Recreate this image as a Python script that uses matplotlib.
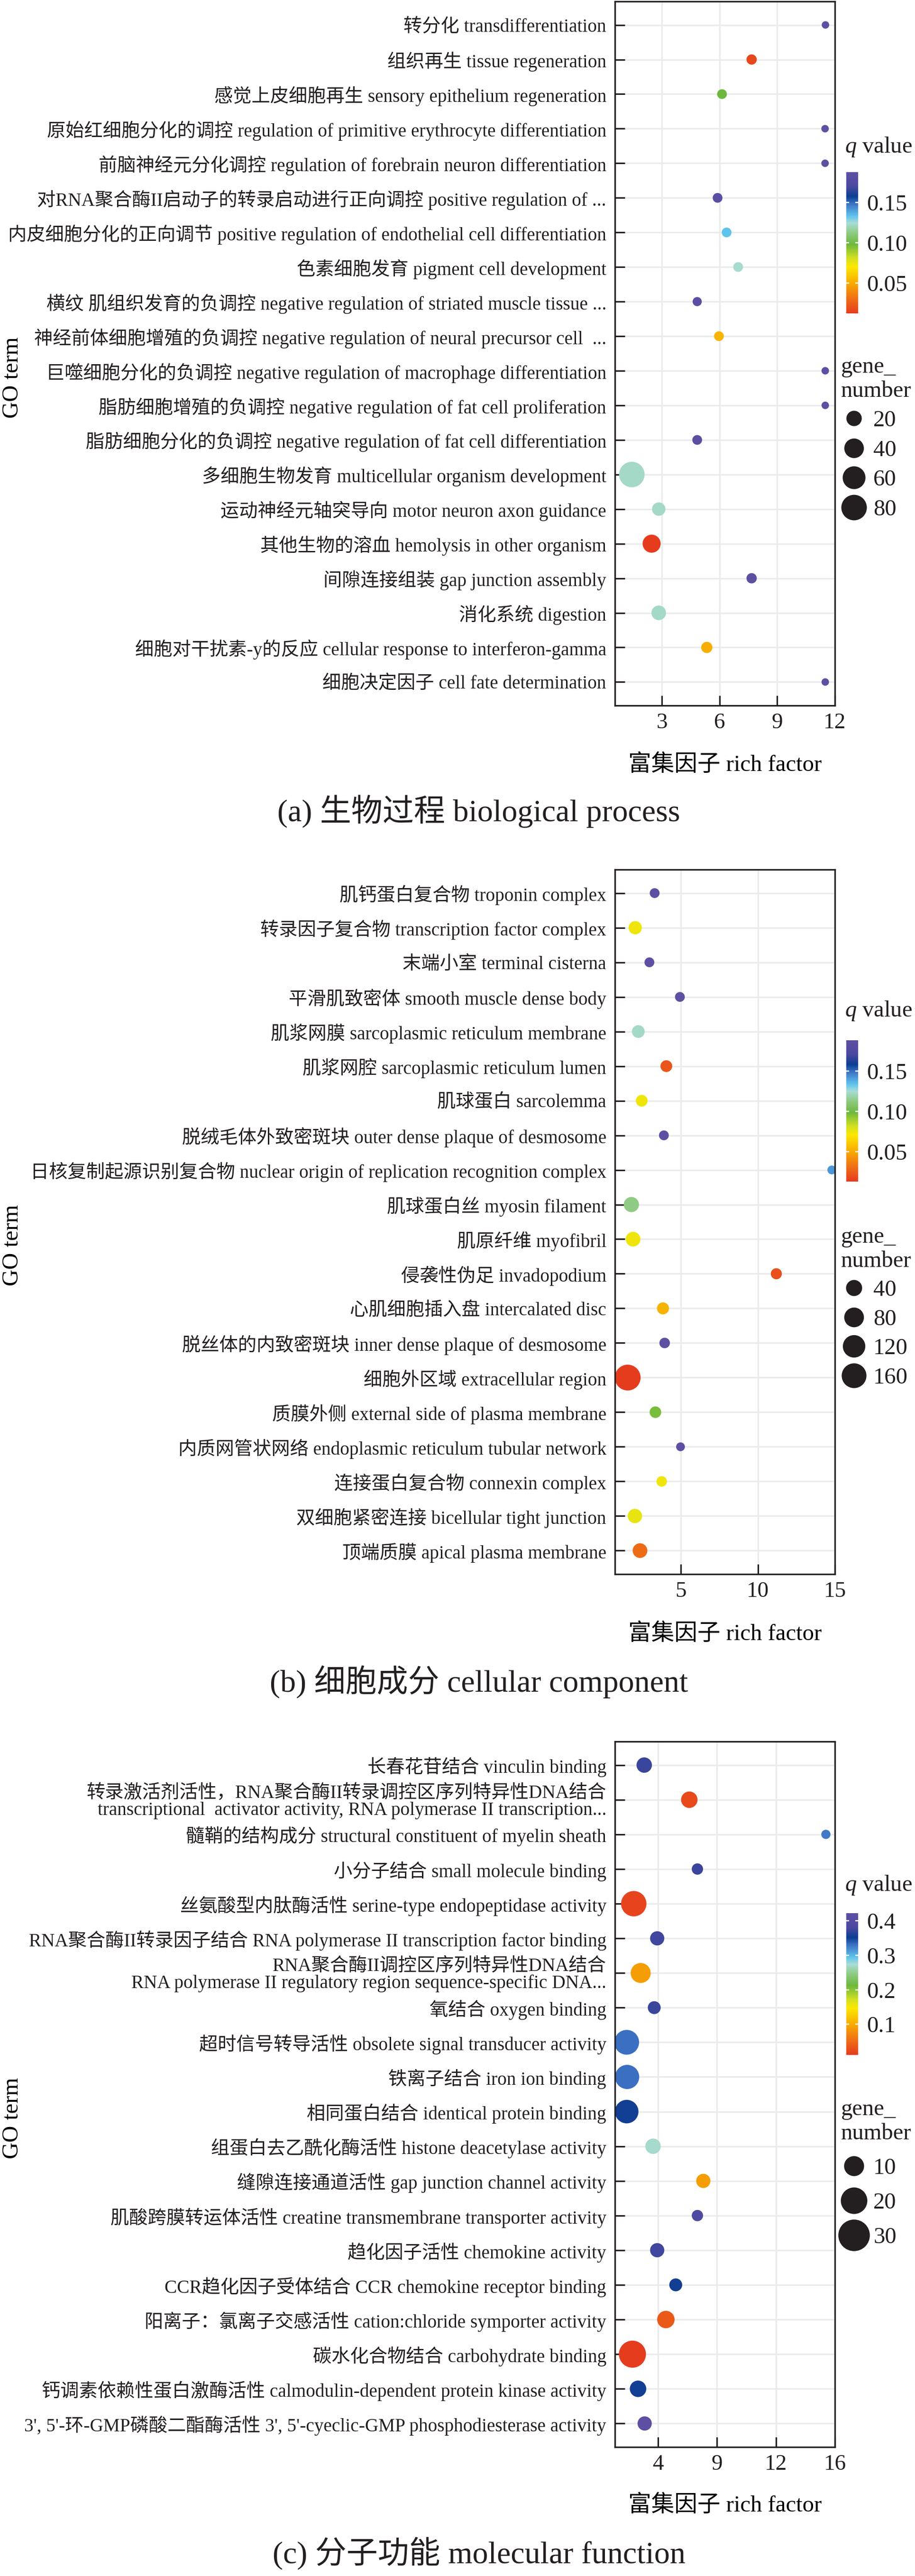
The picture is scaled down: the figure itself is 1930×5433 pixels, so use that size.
import numpy as np
import matplotlib
matplotlib.use("Agg")
import matplotlib.pyplot as plt
from matplotlib.colors import LinearSegmentedColormap, Normalize
from matplotlib.lines import Line2D

# ---------------------------------------------------------------- data
bp_terms = [
    "转分化 transdifferentiation",
    "组织再生 tissue regeneration",
    "感觉上皮细胞再生 sensory epithelium regeneration",
    "原始红细胞分化的调控 regulation of primitive erythrocyte differentiation",
    "前脑神经元分化调控 regulation of forebrain neuron differentiation",
    "对RNA聚合酶II启动子的转录启动进行正向调控 positive regulation of ...",
    "内皮细胞分化的正向调节 positive regulation of endothelial cell differentiation",
    "色素细胞发育 pigment cell development",
    "横纹 肌组织发育的负调控 negative regulation of striated muscle tissue ...",
    "神经前体细胞增殖的负调控 negative regulation of neural precursor cell  ...",
    "巨噬细胞分化的负调控 negative regulation of macrophage differentiation",
    "脂肪细胞增殖的负调控 negative regulation of fat cell proliferation",
    "脂肪细胞分化的负调控 negative regulation of fat cell differentiation",
    "多细胞生物发育 multicellular organism development",
    "运动神经元轴突导向 motor neuron axon guidance",
    "其他生物的溶血 hemolysis in other organism",
    "间隙连接组装 gap junction assembly",
    "消化系统 digestion",
    "细胞对干扰素-y的反应 cellular response to interferon-gamma",
    "细胞决定因子 cell fate determination",
]
bp_rich = [11.51, 7.67, 6.13, 11.49, 11.49, 5.90, 6.37, 6.97, 4.84, 5.97,
           11.50, 11.50, 4.84, 1.44, 2.84, 2.47, 7.67, 2.84, 5.34, 11.50]
bp_q = [0.188, 0.016, 0.098, 0.188, 0.188, 0.184, 0.133, 0.124, 0.186, 0.053,
        0.188, 0.188, 0.186, 0.122, 0.122, 0.012, 0.186, 0.122, 0.051, 0.188]
bp_genes = [1, 5, 4, 1, 1, 4, 4, 4, 3, 4, 1, 1, 4, 80, 13, 32, 5, 17, 7, 1]
bp_xticks = [3, 6, 9, 12]
bp_xticklabels = ["3", "6", "9", "12"]
bp_qticks = [0.05, 0.10, 0.15]
bp_qticklabels = ["0.05", "0.10", "0.15"]
bp_size_breaks = [20, 40, 60, 80]

cc_terms = [
    "肌钙蛋白复合物 troponin complex",
    "转录因子复合物 transcription factor complex",
    "末端小室 terminal cisterna",
    "平滑肌致密体 smooth muscle dense body",
    "肌浆网膜 sarcoplasmic reticulum membrane",
    "肌浆网腔 sarcoplasmic reticulum lumen",
    "肌球蛋白 sarcolemma",
    "脱绒毛体外致密斑块 outer dense plaque of desmosome",
    "日核复制起源识别复合物 nuclear origin of replication recognition complex",
    "肌球蛋白丝 myosin filament",
    "肌原纤维 myofibril",
    "侵袭性伪足 invadopodium",
    "心肌细胞插入盘 intercalated disc",
    "脱丝体的内致密斑块 inner dense plaque of desmosome",
    "细胞外区域 extracellular region",
    "质膜外侧 external side of plasma membrane",
    "内质网管状网络 endoplasmic reticulum tubular network",
    "连接蛋白复合物 connexin complex",
    "双细胞紧密连接 bicellular tight junction",
    "顶端质膜 apical plasma membrane",
]
cc_rich = [3.30, 2.04, 2.96, 4.94, 2.24, 4.06, 2.46, 3.90, 14.80, 1.79,
           1.90, 11.20, 3.84, 3.95, 1.55, 3.35, 4.98, 3.76, 2.02, 2.35]
cc_q = [0.188, 0.074, 0.188, 0.188, 0.123, 0.022, 0.074, 0.188, 0.142, 0.113,
        0.074, 0.020, 0.053, 0.188, 0.013, 0.097, 0.188, 0.074, 0.076, 0.030]
cc_genes = [3, 18, 3, 3, 15, 10, 10, 3, 1, 32, 28, 7, 11, 5, 180, 9, 1, 5, 25, 28]
cc_xticks = [5, 10, 15]
cc_xticklabels = ["5", "10", "15"]
cc_qticks = [0.05, 0.10, 0.15]
cc_qticklabels = ["0.05", "0.10", "0.15"]
cc_size_breaks = [40, 80, 120, 160]

mf_terms = [
    "长春花苷结合 vinculin binding",
    "转录激活剂活性，RNA聚合酶II转录调控区序列特异性DNA结合\n"
    "transcriptional  activator activity, RNA polymerase II transcription...",
    "髓鞘的结构成分 structural constituent of myelin sheath",
    "小分子结合 small molecule binding",
    "丝氨酸型内肽酶活性 serine-type endopeptidase activity",
    "RNA聚合酶II转录因子结合 RNA polymerase II transcription factor binding",
    "RNA聚合酶II调控区序列特异性DNA结合\n"
    "RNA polymerase II regulatory region sequence-specific DNA...",
    "氧结合 oxygen binding",
    "超时信号转导活性 obsolete signal transducer activity",
    "铁离子结合 iron ion binding",
    "相同蛋白结合 identical protein binding",
    "组蛋白去乙酰化酶活性 histone deacetylase activity",
    "缝隙连接通道活性 gap junction channel activity",
    "肌酸跨膜转运体活性 creatine transmembrane transporter activity",
    "趋化因子活性 chemokine activity",
    "CCR趋化因子受体结合 CCR chemokine receptor binding",
    "阳离子：氯离子交感活性 cation:chloride symporter activity",
    "碳水化合物结合 carbohydrate binding",
    "钙调素依赖性蛋白激酶活性 calmodulin-dependent protein kinase activity",
    "3', 5'-环-GMP磷酸二酯酶活性 3', 5'-cyeclic-GMP phosphodiesterase activity",
]
mf_rich = [3.06, 6.12, 15.39, 6.67, 2.35, 3.94, 2.82, 3.74, 1.87, 1.90,
           1.87, 3.66, 7.07, 6.67, 3.94, 5.20, 4.53, 2.26, 2.64, 3.09]
mf_q = [0.373, 0.023, 0.327, 0.373, 0.019, 0.377, 0.089, 0.373, 0.332, 0.332,
        0.356, 0.270, 0.089, 0.389, 0.377, 0.356, 0.036, 0.011, 0.356, 0.422]
mf_genes = [5, 6, 1, 2, 18, 4, 10, 3, 17, 16, 15, 5, 4, 2, 4, 3, 7, 21, 6, 4]
mf_xticks = [4, 8, 12, 16]
mf_xticklabels = ["4", "9", "12", "16"]
mf_qticks = [0.1, 0.2, 0.3, 0.4]
mf_qticklabels = ["0.1", "0.2", "0.3", "0.4"]
mf_size_breaks = [10, 20, 30]

captions = ["(a) 生物过程 biological process",
            "(b) 细胞成分 cellular component",
            "(c) 分子功能 molecular function"]

# ---------------------------------------------------------------- style
W, H, DPI = 1930, 5433, 100
PX = 72.0 / DPI
INK = "#231f20"
GRID = "#ebebeb"
plt.rcParams["font.family"] = ["Liberation Serif", "Noto Sans CJK SC"]
plt.rcParams["mathtext.fontset"] = "custom"
plt.rcParams["mathtext.it"] = "Liberation Serif:italic"
plt.rcParams["mathtext.rm"] = "Liberation Serif"
plt.rcParams["text.color"] = INK

cmap_pos = [0.0, 0.12, 0.21, 0.33, 0.39, 0.49, 0.57, 0.64, 0.69, 0.78, 0.83, 0.90, 1.0]
cmap_col = ["#e63c1e", "#f07814", "#f7a900", "#fde800", "#d3e021", "#6cb83e",
            "#8fca82", "#a8dcd6", "#5fc3ec", "#3b6fc2", "#0a3e92", "#4a48a0", "#5e4fa2"]
cmap = LinearSegmentedColormap.from_list("qval", list(zip(cmap_pos, cmap_col)))

fig = plt.figure(figsize=(W / DPI, H / DPI), dpi=DPI)
fig.patch.set_facecolor("white")


def fbox(l, t, r, b):
    return [l / W, 1 - b / H, (r - l) / W, (b - t) / H]


def draw(spec, terms, rich, q, genes, xticks, xticklabels, qticks, qticklabels,
         breaks, caption):
    L, R = 1297, 1761
    T, B = spec["top"], spec["bottom"]
    ax = fig.add_axes(fbox(L, T, R, B))
    n = len(terms)
    y = np.arange(n)
    pad = 0.68
    x0, x1 = spec["xlim"]
    ax.set_xlim(x0, x1)
    ax.set_ylim(n - 1 + pad, -pad)
    ax.hlines(y, x0, x1, colors=GRID, linewidth=3.2 * PX, zorder=0.5)
    ax.vlines(xticks, -pad, n - 1 + pad, colors=GRID, linewidth=3.2 * PX, zorder=0.5)

    sa, sb = spec["size"]
    diam = sa + sb * np.sqrt(np.asarray(genes, float))
    norm = Normalize(min(q), max(q))
    sc = ax.scatter(rich, y, s=(diam * PX) ** 2, c=q, cmap=cmap, norm=norm,
                    linewidths=0, zorder=2)

    ax.set_yticks(y)
    ax.set_yticklabels(terms, fontsize=28.3)
    for t in ax.get_yticklabels():
        t.set_linespacing(0.97)
    ax.set_xticks(xticks)
    ax.set_xticklabels(xticklabels, fontsize=34)
    ax.tick_params(axis="both", direction="in", length=21 * PX, width=3.2 * PX,
                   color=INK, labelcolor=INK)
    ax.tick_params(axis="y", pad=13)
    ax.tick_params(axis="x", pad=11)
    for s in ax.spines.values():
        s.set_linewidth(3.3 * PX)
        s.set_color(INK)
        s.set_zorder(3)

    ax.set_xlabel("富集因子 rich factor", fontsize=35)
    ax.xaxis.label.set_va("center")
    ax.xaxis.set_label_coords(0.5, (B - spec["xlab_y"]) / (B - T))
    ax.set_ylabel("GO term", fontsize=35)
    ax.yaxis.label.set_va("center")
    ax.yaxis.set_label_coords((26 - L) / (R - L), (B - spec["ylab_y"]) / (B - T))

    fig.text(1010 / W, 1 - spec["cap_y"] / H, caption, fontsize=47.5,
             ha="center", va="center")

    # colour bar
    ct, cbt = spec["cbar"]
    cax = fig.add_axes(fbox(1785, ct, 1810, cbt))
    cbar = fig.colorbar(sc, cax=cax)
    cbar.outline.set_visible(False)
    cbar.set_ticks(qticks)
    cbar.set_ticklabels(qticklabels)
    cax.yaxis.set_ticks_position("both")
    cax.tick_params(axis="y", which="major", direction="in", length=6 * PX,
                    width=2.5 * PX, color="white", labelsize=35, pad=13,
                    labelleft=False, labelright=True, labelcolor=INK)
    cax.minorticks_off()
    fig.text(1782 / W, 1 - spec["qt_y"] / H, r"$q$ value", fontsize=35,
             ha="left", va="center")

    # size legend
    handles = [Line2D([], [], marker="o", linestyle="none", markerfacecolor=INK,
                      markeredgewidth=0, markersize=(sa + sb * np.sqrt(v)) * PX)
               for v in breaks]
    ax.legend(handles, [str(v) for v in breaks], title="gene_\nnumber",
              loc="upper left", bbox_to_anchor=(1774 / W, 1 - spec["leg_top"] / H),
              bbox_transform=fig.transFigure, frameon=False, fontsize=35,
              title_fontsize=35, borderpad=0, borderaxespad=0, handlelength=1.1,
              handletextpad=0.3, labelspacing=spec["lsp"], alignment="left",
              labelcolor=INK)
    return ax


specs = [
    dict(top=3, bottom=1488, xlim=(0.56, 12.0), xlab_y=1613, ylab_y=796, cap_y=1711,
         cbar=(363, 661), qt_y=310, leg_top=752, lsp=0.38, size=(11.0, 4.79)),
    dict(top=1834, bottom=3320, xlim=(0.72, 15.0), xlab_y=3446, ylab_y=2626, cap_y=3547,
         cbar=(2194, 2492), qt_y=2132, leg_top=2587, lsp=0.36, size=(15.7, 2.89)),
    dict(top=3673, bottom=5161, xlim=(1.07, 16.0), xlab_y=5284, ylab_y=4467, cap_y=5385,
         cbar=(4035, 4334), qt_y=3976, leg_top=4427, lsp=0.6, size=(9.0, 10.5)),
]

draw(specs[0], bp_terms, bp_rich, bp_q, bp_genes, bp_xticks, bp_xticklabels,
     bp_qticks, bp_qticklabels, bp_size_breaks, captions[0])
draw(specs[1], cc_terms, cc_rich, cc_q, cc_genes, cc_xticks, cc_xticklabels,
     cc_qticks, cc_qticklabels, cc_size_breaks, captions[1])
draw(specs[2], mf_terms, mf_rich, mf_q, mf_genes, mf_xticks, mf_xticklabels,
     mf_qticks, mf_qticklabels, mf_size_breaks, captions[2])

fig.savefig("out.png", dpi=DPI, facecolor="white")
